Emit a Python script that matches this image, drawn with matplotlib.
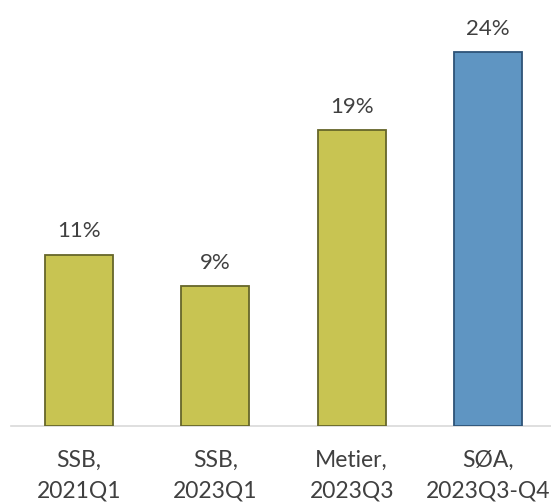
import numpy as np
import matplotlib.pyplot as plt

# Chart data
categories = ["SSB,\n2021Q1", "SSB,\n2023Q1", "Metier,\n2023Q3", "SØA,\n2023Q3-Q4"]
values = [11, 9, 19, 24]
highlight = [False, False, False, True]

plt.rcParams['font.family'] = ['Lato', 'DejaVu Sans']

fig = plt.figure(figsize=(5.51, 5.04), dpi=100)
ax = fig.add_axes([11 / 551, 78 / 504, 545 / 551, 424 / 504])

x = np.arange(len(categories))
face = ['#5F95C2' if h else '#C8C452' for h in highlight]
edge = ['#2E5377' if h else '#66662A' for h in highlight]
bars = ax.bar(x, values, width=0.5, color=face, edgecolor=edge, linewidth=1.3, zorder=3)

for b, v in zip(bars, values):
    ax.annotate(f"{v}%", (b.get_x() + b.get_width() / 2, v), xytext=(0, 9.5),
                textcoords='offset points', ha='center', va='bottom',
                fontsize=16, color='#404040')

ax.set_xlim(-0.5, 3.5)
ax.set_ylim(0, 27.2)
ax.set_xticks(x)
ax.set_xticklabels(categories, fontsize=16.5, color='#404040', linespacing=1.6)
ax.tick_params(axis='x', length=0, pad=17)
ax.set_yticks([])
for s in ['top', 'right', 'left']:
    ax.spines[s].set_visible(False)
ax.spines['bottom'].set_color('#D9D9D9')
ax.spines['bottom'].set_linewidth(1.2)

fig.savefig('out.png', dpi=100)
